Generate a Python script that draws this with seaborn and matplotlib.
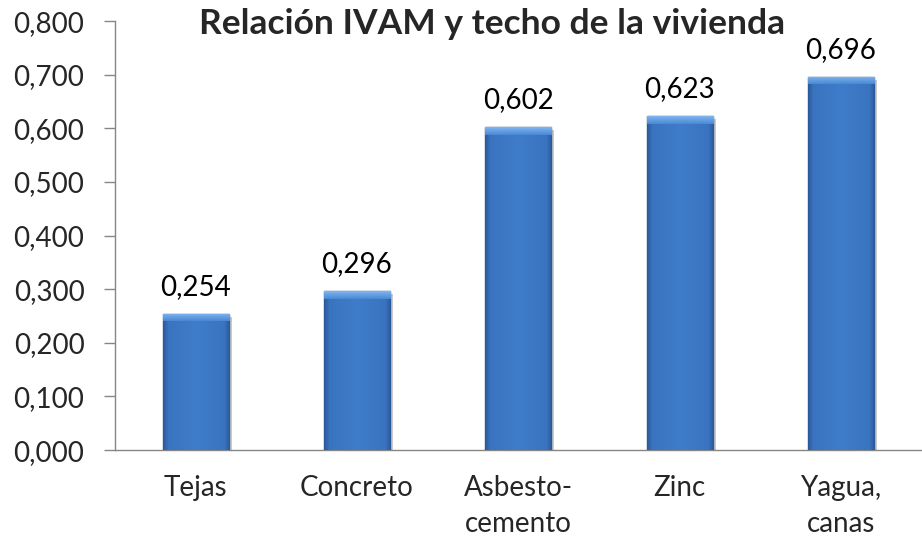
import numpy as np
import pandas as pd
import seaborn as sns
import matplotlib.pyplot as plt
from matplotlib.colors import LinearSegmentedColormap
from matplotlib.ticker import FuncFormatter, FixedLocator

techos = ["Tejas", "Concreto", "Asbesto-\ncemento", "Zinc", "Yagua,\ncanas"]
ivam = [0.254, 0.296, 0.602, 0.623, 0.696]

df = pd.DataFrame({"techo": techos, "ivam": ivam})

sns.set_style("white")
plt.rcParams["font.family"] = ["Lato", "DejaVu Sans"]

fig = plt.figure(figsize=(9.22, 5.41), dpi=100)
ax = fig.add_axes([0.1247, 0.168, 0.875, 0.793])

sns.barplot(data=df, x="techo", y="ivam", color="#3C77C4", width=0.41,
            edgecolor="#28528C", linewidth=1.0, ax=ax, zorder=3)

# relleno degradado tipo Excel dentro de cada barra
cmap = LinearSegmentedColormap.from_list(
    "excel", [(0, "#2A5898"), (0.08, "#3A74C0"), (0.5, "#3F7CC9"),
              (0.92, "#3A74C0"), (1, "#2A5898")])
grad = np.linspace(0, 1, 256).reshape(1, -1)
bevel = LinearSegmentedColormap.from_list("bev", ["#4A88D4", "#80B6EF"])
for p in ax.patches:
    x0, y0 = p.get_x(), p.get_y()
    w, h = p.get_width(), p.get_height()
    # sombra
    ax.add_patch(plt.Rectangle((x0 + 0.018, y0), w, h - 0.005, color="#8a8a8a",
                               alpha=0.45, zorder=2, lw=0))
    im = ax.imshow(grad, extent=[x0, x0 + w, y0, y0 + h], cmap=cmap,
                   aspect="auto", zorder=3.5)
    im.set_clip_path(p)
    # bisel superior
    top = ax.imshow(np.linspace(0, 1, 64).reshape(-1, 1)[::-1], cmap=bevel,
                    extent=[x0, x0 + w, y0 + h - 0.014, y0 + h], aspect="auto",
                    zorder=3.6)
    top.set_clip_path(p)

ax.bar_label(ax.containers[0], labels=[f"{v:.3f}".replace(".", ",") for v in ivam],
             padding=10, fontsize=20, color="black")

ax.set_xlim(-0.5, 4.5)
ax.set_ylim(0, 0.8)
ax.yaxis.set_major_locator(FixedLocator(np.arange(0, 0.81, 0.1)))
ax.yaxis.set_major_formatter(FuncFormatter(lambda v, _: f"{v:.3f}".replace(".", ",")))
ax.set_xlabel("")
ax.set_ylabel("")

ax.xaxis.set_minor_locator(FixedLocator(np.arange(-0.5, 5, 1)))
ax.tick_params(axis="x", which="major", length=0, pad=18, labelsize=20)
ax.tick_params(axis="x", which="minor", length=8, color="#868686", width=1, direction="out")
ax.tick_params(axis="y", length=8, color="#868686", width=1, direction="out",
               pad=14, labelsize=20, left=True)
for lbl in ax.get_xticklabels():
    lbl.set_linespacing(1.45)

for s in ["top", "right"]:
    ax.spines[s].set_visible(False)
for s in ["left", "bottom"]:
    ax.spines[s].set_color("#868686")
    ax.spines[s].set_linewidth(1)

fig.text(0.534, 0.955, "Relación IVAM y techo de la vivienda", ha="center", va="center",
         fontsize=25.5, fontweight="bold")

fig.savefig("out.png", dpi=100)
